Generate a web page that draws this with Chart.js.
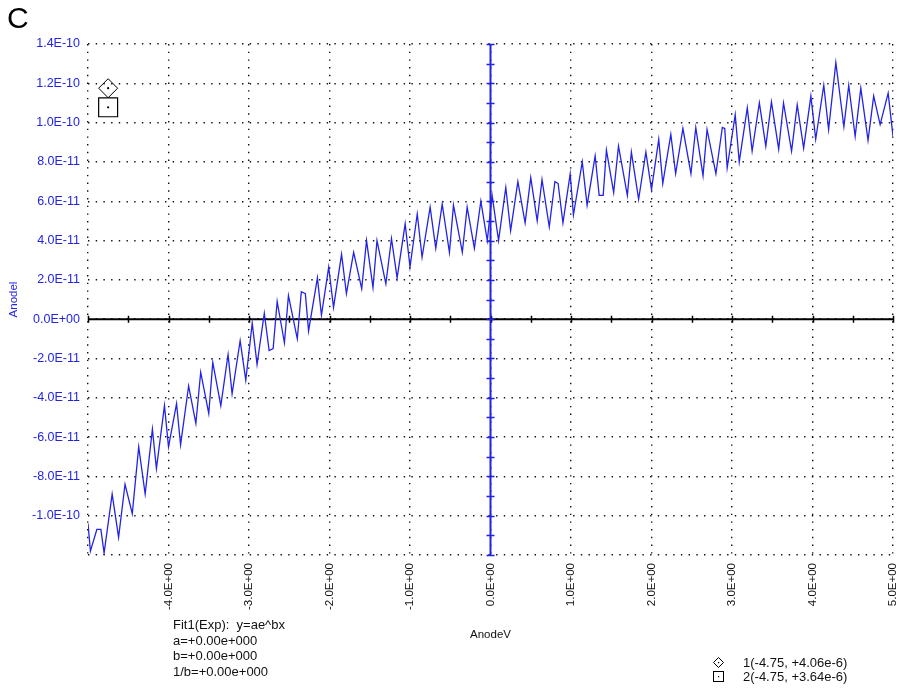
<!DOCTYPE html>
<html>
<head>
<meta charset="utf-8">
<script src="https://cdn.jsdelivr.net/npm/chart.js@4"></script>
<style>
  body { margin: 0; background: #fff; }
  #wrap { position: relative; width: 903px; height: 689px; font-family: "Liberation Sans", Arial, sans-serif; }
  #chart { position: absolute; left: 0; top: 0; }
  .panel { position: absolute; left: 7px; top: 3px; font-size: 30px; line-height: 30px; color: #000; }
  .fit { position: absolute; left: 173px; top: 617px; font-size: 13px; line-height: 15.6px; color: #111; white-space: pre; }
  .cursors { position: absolute; left: 713px; top: 656px; font-size: 13px; line-height: 14px; color: #111; white-space: pre; }
  .cursors svg { vertical-align: -1px; margin-right: 19px; }
</style>
</head>
<body>
<div id="wrap">
  <canvas id="chart" width="903" height="689"></canvas>
  <div class="panel">C</div>
  <div class="fit">Fit1(Exp):  y=ae^bx
a=+0.00e+000
b=+0.00e+000
1/b=+0.00e+000</div>
  <div class="cursors"><svg width="11" height="11"><path d="M5.5 0.5 L10.5 5.5 L5.5 10.5 L0.5 5.5 Z" fill="none" stroke="#000"/><rect x="5" y="5" width="1.2" height="1.2" fill="#000"/></svg>1(-4.75, +4.06e-6)
<svg width="11" height="11"><rect x="0.5" y="0.5" width="10" height="10" fill="none" stroke="#000"/><rect x="5" y="5" width="1.2" height="1.2" fill="#000"/></svg>2(-4.75, +3.64e-6)</div>
</div>

<script>
// AnodeV sweep (x) and Anodel current in units of 1e-11 (y)
const anodeV = [
  -5.00, -4.97, -4.89, -4.84, -4.80, -4.70, -4.62, -4.54, -4.45, -4.37,
  -4.29, -4.20, -4.15, -4.05, -4.00, -3.90, -3.85, -3.75, -3.66, -3.60,
  -3.50, -3.45, -3.35, -3.26, -3.21, -3.11, -3.04, -2.96, -2.90, -2.81,
  -2.75, -2.70, -2.65, -2.56, -2.51, -2.40, -2.35, -2.30, -2.26, -2.15,
  -2.10, -2.01, -1.95, -1.85, -1.79, -1.70, -1.60, -1.54, -1.46, -1.41,
  -1.30, -1.23, -1.16, -1.06, -1.00, -0.91, -0.85, -0.75, -0.68, -0.60,
  -0.51, -0.46, -0.35, -0.29, -0.20, -0.12, -0.04, 0.02, 0.10, 0.19,
  0.25, 0.34, 0.43, 0.50, 0.58, 0.64, 0.73, 0.80, 0.84, 0.90,
  0.99, 1.03, 1.14, 1.20, 1.30, 1.35, 1.40, 1.44, 1.53, 1.59,
  1.70, 1.75, 1.84, 1.93, 2.00, 2.09, 2.14, 2.24, 2.30, 2.39,
  2.49, 2.55, 2.64, 2.69, 2.80, 2.88, 2.91, 2.94, 3.04, 3.09,
  3.19, 3.25, 3.34, 3.42, 3.49, 3.58, 3.64, 3.74, 3.81, 3.89,
  3.98, 4.04, 4.14, 4.20, 4.29, 4.39, 4.45, 4.53, 4.60, 4.69,
  4.76, 4.84, 4.94, 5.00
];
const anodeI = [
  -10.4, -11.8, -10.7, -10.7, -11.9, -8.9, -11.1, -8.4, -9.9, -6.5,
  -8.9, -5.6, -7.6, -4.4, -6.5, -4.3, -6.4, -3.4, -5.3, -2.7,
  -4.8, -2.2, -4.4, -1.8, -3.8, -1.1, -3.1, -0.2, -2.3, 0.3,
  -1.6, -1.5, 0.9, -1.2, 1.2, -1.0, 1.4, 1.3, -0.6, 2.1,
  0.2, 2.65, 0.6, 3.3, 1.3, 3.4, 1.55, 4.0, 1.6, 4.0,
  1.8, 4.1, 2.1, 4.85, 2.65, 5.35, 3.15, 5.7, 3.6, 5.85,
  3.4, 5.8, 3.4, 5.7, 3.6, 6.0, 4.0, 6.3, 4.0, 6.7,
  4.5, 7.0, 4.9, 7.2, 5.0, 7.1, 4.7, 7.0, 6.9, 4.9,
  7.4, 5.3, 8.0, 5.8, 8.3, 6.3, 6.3, 8.6, 6.45, 8.8,
  6.3, 8.5, 6.1, 8.5, 6.6, 9.15, 6.9, 9.4, 7.4, 9.7,
  7.4, 9.75, 7.3, 9.65, 7.4, 9.75, 9.7, 7.7, 10.4, 8.0,
  10.75, 8.55, 11.0, 8.8, 11.05, 8.65, 11.0, 8.55, 10.9, 8.7,
  11.35, 9.15, 11.9, 9.65, 13.05, 9.8, 11.9, 9.3, 11.75, 9.1,
  11.35, 9.9, 11.5, 9.3
];
const Y_UNIT = 1e-11;

// cursor markers (top left)
const cursorX = [-4.75, -4.75];
const cursorY = [11.75, 10.78];

// axis ranges / tick steps
const xMin = -5, xMax = 5, xStep = 1;
const yMin = -1.2e-10, yMax = 1.4e-10, yStep = 2e-11;

const BLUE = '#2323e6';
const FONT = '"Liberation Sans", Arial, sans-serif';

function sci(v) {
  if (Math.abs(v) < 1e-20) v = 0;
  const [m, e] = v.toExponential(1).split('e');
  return m + 'E' + e[0] + e.slice(1).padStart(2, '0');
}

const tracePts = anodeV.map((x, i) => ({ x: x, y: anodeI[i] * Y_UNIT }));
const diamondPts = [{ x: cursorX[0], y: cursorY[0] * Y_UNIT }];
const squarePts = [{ x: cursorX[1], y: cursorY[1] * Y_UNIT }];
const dotPts = cursorX.map((x, i) => ({ x: x, y: cursorY[i] * Y_UNIT }));

// solid zero axes with their own small ticks
const zeroAxes = {
  id: 'zeroAxes',
  beforeDatasetsDraw(chart) {
    const { ctx, chartArea: a, scales: { x, y } } = chart;
    const x0 = x.getPixelForValue(0);
    const y0 = y.getPixelForValue(0);
    ctx.save();
    ctx.lineWidth = 2;
    ctx.strokeStyle = '#000';
    ctx.beginPath();
    ctx.moveTo(a.left, y0); ctx.lineTo(a.right, y0);
    ctx.stroke();
    ctx.lineWidth = 1.5;
    ctx.beginPath();
    for (let v = xMin; v <= xMax + 1e-9; v += 0.5) {
      const px = Math.round(x.getPixelForValue(v)) + 0.5;
      ctx.moveTo(px, y0 - 3.5); ctx.lineTo(px, y0 + 3.5);
    }
    ctx.stroke();
    ctx.strokeStyle = BLUE;
    ctx.lineWidth = 2;
    ctx.beginPath();
    ctx.moveTo(x0, a.top); ctx.lineTo(x0, a.bottom);
    ctx.stroke();
    ctx.lineWidth = 1.5;
    ctx.beginPath();
    for (let k = 0; k <= 26; k++) {
      const py = Math.round(y.getPixelForValue(yMin + k * 1e-11)) + 0.5;
      ctx.moveTo(x0 - 4, py); ctx.lineTo(x0 + 4, py);
    }
    ctx.stroke();
    ctx.restore();
  }
};

new Chart(document.getElementById('chart'), {
  type: 'scatter',
  data: {
    datasets: [
      {
        data: tracePts, showLine: true, borderColor: BLUE, borderWidth: 1.3,
        pointRadius: 0, tension: 0, order: 3
      },
      {
        data: diamondPts, pointStyle: 'rectRot', pointRadius: 9.5,
        borderColor: '#000', borderWidth: 1, backgroundColor: 'rgba(255,255,255,0)', order: 2
      },
      {
        data: squarePts, pointStyle: 'rect', pointRadius: 13.4,
        borderColor: '#000', borderWidth: 1.2, backgroundColor: 'rgba(255,255,255,0)', order: 2
      },
      {
        data: dotPts, pointStyle: 'circle', pointRadius: 1.1,
        borderWidth: 0, backgroundColor: '#000', order: 1
      }
    ]
  },
  options: {
    responsive: false,
    animation: false,
    devicePixelRatio: 1,
    layout: { autoPadding: false, padding: { top: 44, right: 10, bottom: 0, left: 0 } },
    plugins: { legend: { display: false }, tooltip: { enabled: false } },
    scales: {
      x: {
        type: 'linear', min: xMin, max: xMax,
        afterFit: s => { s.height = 134; s.paddingLeft = 0; s.paddingRight = 0; },
        ticks: {
          stepSize: xStep, autoSkip: false, minRotation: 90, maxRotation: 90, padding: 8,
          color: '#111', font: { family: FONT, size: 11.5 },
          callback: v => (v === xMin ? '' : sci(v))
        },
        grid: { color: '#111', lineWidth: 1.4, drawTicks: false },
        border: { display: false, dash: [1.4, 6.3] },
        title: {
          display: true, text: 'AnodeV', color: '#111',
          font: { family: FONT, size: 11.5 }, padding: { bottom: 47 }
        }
      },
      y: {
        type: 'linear', min: yMin, max: yMax,
        afterFit: s => { s.width = 88; s.paddingTop = 0; s.paddingBottom = 0; },
        ticks: {
          stepSize: yStep, autoSkip: false, padding: 8,
          color: BLUE, font: { family: FONT, size: 12.5 },
          callback: v => (Math.abs(v - yMin) < 1e-13 ? '' : sci(v))
        },
        grid: { color: '#111', lineWidth: 1.4, drawTicks: false },
        border: { display: false, dash: [1.4, 6.3] },
        title: {
          display: true, text: 'Anodel', color: BLUE,
          font: { family: FONT, size: 11.5 }, padding: { top: 7 }
        }
      }
    }
  },
  plugins: [zeroAxes]
});
</script>
</body>
</html>
